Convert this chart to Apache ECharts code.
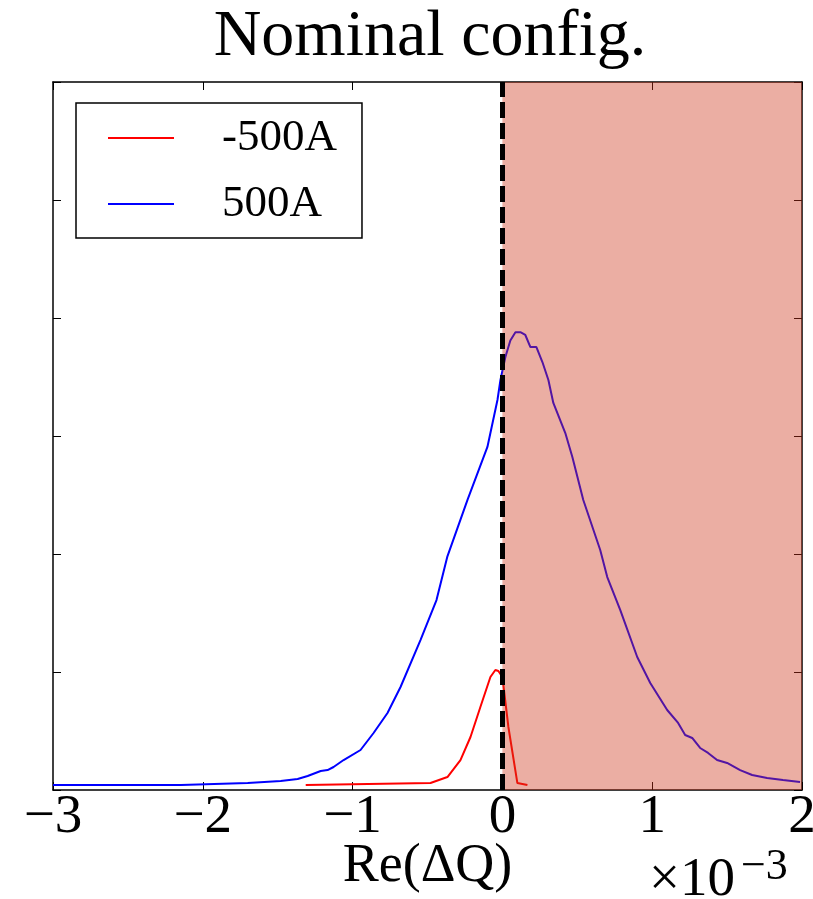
<!DOCTYPE html>
<html>
<head>
<meta charset="utf-8">
<script src="https://cdn.jsdelivr.net/npm/echarts@6/dist/echarts.min.js"></script>
<style>html,body{margin:0;padding:0;background:#fff}#c{width:813px;height:899px}</style>
</head>
<body>
<div id="c"></div>
<script>
const titleText = 'Nominal config.';
const xLabel = 'Re(\u0394Q)';
const xTicks = [-3, -2, -1, 0, 1, 2];
const seriesNames = ['-500A', '500A'];
const shadeRange = [0, 2];
const dividerX = 0;

// 500A (blue), x in units of 1e-3
const blueX = [-3.0, -2.147, -1.70, -1.48, -1.367, -1.30, -1.213, -1.167, -1.127, -1.06, -0.947, -0.86, -0.767, -0.68, -0.547, -0.44, -0.367, -0.233, -0.10, -0.033, -0.013, 0.02, 0.053, 0.087, 0.12, 0.153, 0.187, 0.227, 0.267, 0.307, 0.34, 0.42, 0.467, 0.54, 0.653, 0.70, 0.787, 0.90, 0.987, 1.10, 1.173, 1.22, 1.267, 1.32, 1.373, 1.433, 1.50, 1.587, 1.667, 1.767, 1.873, 1.987];
const blueY = [0.042, 0.042, 0.059, 0.076, 0.093, 0.119, 0.161, 0.169, 0.195, 0.254, 0.339, 0.483, 0.653, 0.873, 1.271, 1.61, 1.98, 2.458, 2.907, 3.305, 3.475, 3.67, 3.81, 3.88, 3.88, 3.856, 3.754, 3.754, 3.627, 3.475, 3.28, 3.025, 2.822, 2.458, 2.034, 1.805, 1.525, 1.127, 0.907, 0.678, 0.568, 0.466, 0.441, 0.356, 0.314, 0.254, 0.229, 0.169, 0.127, 0.102, 0.085, 0.068];

// -500A (red)
const redX = [-1.313, -0.48, -0.367, -0.28, -0.213, -0.147, -0.08, -0.047, -0.027, 0.0, 0.04, 0.10, 0.167];
const redY = [0.042, 0.059, 0.11, 0.254, 0.449, 0.703, 0.958, 1.017, 1.008, 0.958, 0.534, 0.059, 0.042];

const FONT = 'Liberation Serif';
const pairs = (xs, ys) => xs.map((x, i) => [x, ys[i]]);
const fmt = v => String(v).replace('-', '\u2212');

const frameAxis = (extra) => Object.assign({
  type: 'value',
  axisLine: {show: true, onZero: false, lineStyle: {color: '#000', width: 1.5}},
  axisTick: {show: true, inside: true, length: 8, lineStyle: {color: '#000', width: 1}},
  axisLabel: {show: false}, splitLine: {show: false}
}, extra);

const chart = echarts.init(document.getElementById('c'));
chart.setOption({
  animation: false,
  backgroundColor: '#fff',
  title: {
    text: titleText, left: 425, top: 0, textAlign: 'center',
    textStyle: {fontFamily: FONT, fontSize: 66, fontWeight: 'normal', color: '#000'}
  },
  grid: {left: 53, right: 11, top: 82, bottom: 109, show: false, containLabel: false, outerBoundsMode: 'none'},
  legend: {
    data: seriesNames, orient: 'vertical', left: 76, top: 103,
    icon: 'rect', itemWidth: 66, itemHeight: 2, itemGap: 0,
    padding: [2, 25, 1, 32],
    borderColor: '#000', borderWidth: 1.5, backgroundColor: '#fff',
    textStyle: {fontFamily: FONT, fontSize: 45, color: '#000', lineHeight: 66, padding: [0, 0, 0, 43]},
    z: 10
  },
  xAxis: [frameAxis({
    min: -3, max: 2, interval: 1, position: 'bottom',
    name: xLabel, nameLocation: 'middle', nameGap: 50, nameMoveOverlap: false,
    nameTextStyle: {fontFamily: FONT, fontSize: 54, color: '#000'},
    axisLabel: {show: true, fontFamily: FONT, fontSize: 55, color: '#000', margin: 0, formatter: fmt}
  }), frameAxis({min: -3, max: 2, interval: 1, position: 'top'})],
  yAxis: [frameAxis({min: 0, max: 6, interval: 1, position: 'left'}),
          frameAxis({min: 0, max: 6, interval: 1, position: 'right'})],
  graphic: [
    {type: 'text', left: 649, top: 853, z: 10, style: {text: '\u00d710', fontFamily: FONT, fontSize: 55, fill: '#000'}},
    {type: 'text', left: 741, top: 845, z: 10, style: {text: '\u22123', fontFamily: FONT, fontSize: 44, fill: '#000'}}
  ],
  series: [{
    name: seriesNames[0], type: 'line', data: pairs(redX, redY),
    symbol: 'none', color: '#ff0000', lineStyle: {color: '#ff0000', width: 2}, z: 3
  }, {
    name: seriesNames[1], type: 'line', data: pairs(blueX, blueY),
    symbol: 'none', color: '#0000ff', lineStyle: {color: '#0000ff', width: 2}, z: 2
  }, {
    name: 'shade', type: 'line', data: [[shadeRange[0], 6], [shadeRange[1], 6]],
    symbol: 'none', lineStyle: {width: 0}, silent: true,
    areaStyle: {color: 'rgba(205,52,25,0.4)', opacity: 1}, z: 5,
    markLine: {
      silent: true, symbol: 'none', label: {show: false}, z: 8,
      lineStyle: {color: '#000', width: 5, type: [16, 5]},
      data: [{xAxis: dividerX}]
    }
  }]
});
</script>
</body>
</html>
